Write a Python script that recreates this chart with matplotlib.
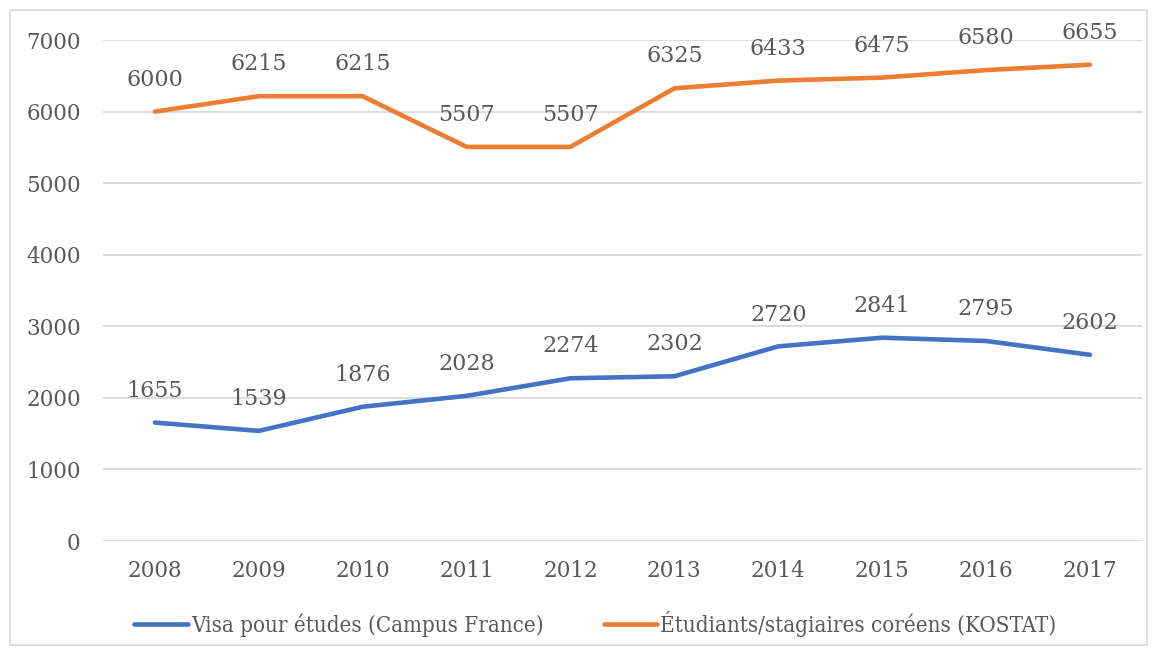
import matplotlib
matplotlib.use('Agg')
import matplotlib.pyplot as plt
from matplotlib.patches import Rectangle

years = ['2008', '2009', '2010', '2011', '2012', '2013', '2014', '2015', '2016', '2017']
visa = [1655, 1539, 1876, 2028, 2274, 2302, 2720, 2841, 2795, 2602]
kostat = [6000, 6215, 6215, 5507, 5507, 6325, 6433, 6475, 6580, 6655]
names = ['Visa pour études (Campus France)', 'Étudiants/stagiaires coréens (KOSTAT)']

txt = '#595959'
plt.rcParams['font.family'] = ['DejaVu Serif']

fig = plt.figure(figsize=(11.58, 6.55), dpi=100)
ax = fig.add_axes([0.0889, 0.174, 0.8972, 0.7649])
fig.patches.append(Rectangle((10 / 1158, 10 / 655), 1137 / 1158, 635 / 655,
                             transform=fig.transFigure, fill=False,
                             edgecolor='#D9D9D9', lw=1.2))

x = range(len(years))
ax.plot(x, visa, color='#4472C4', lw=3.3, solid_capstyle='round', label=names[0])
ax.plot(x, kostat, color='#ED7D31', lw=3.3, solid_capstyle='round', label=names[1])

for series in (visa, kostat):
    for i, v in enumerate(series):
        ax.annotate(str(v), (i, v), xytext=(0, 15), textcoords='offset points',
                    ha='center', va='bottom', fontsize=16, color=txt)

ax.set_xlim(-0.5, len(years) - 0.5)
ax.set_ylim(0, 7000)
ax.set_yticks(range(0, 7001, 1000))
ax.set_xticks(list(x))
ax.set_xticklabels(years)
ax.yaxis.grid(True, color='#D9D9D9', lw=1.3)
ax.set_axisbelow(True)
for s in ax.spines.values():
    s.set_visible(False)
ax.tick_params(length=0, labelsize=15.5, labelcolor=txt)
ax.tick_params(axis='y', pad=16)
ax.tick_params(axis='x', pad=14)

leg = ax.legend(loc='upper center', bbox_to_anchor=(0.474, -0.10), ncol=2, frameon=False,
                prop={'family': 'DejaVu Serif', 'size': 16, 'stretch': 'condensed'},
                labelcolor=txt, handlelength=2.4, handletextpad=0.15,
                columnspacing=2.7)

fig.savefig('out.png', dpi=100)
